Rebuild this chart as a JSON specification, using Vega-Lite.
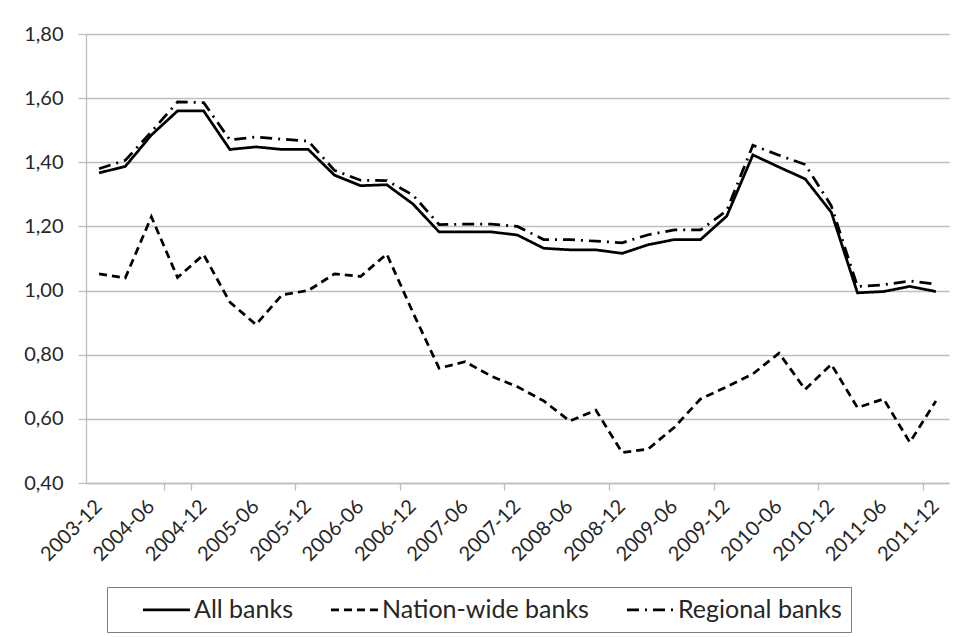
{
  "$schema": "https://vega.github.io/schema/vega-lite/v6.json",
  "width": 863,
  "height": 449,
  "autosize": {"type": "none"},
  "padding": {"left": 86, "top": 34, "right": 16, "bottom": 154},
  "background": "white",
  "config": {
    "font": "Lato",
    "locale": {"number": {"decimal": ",", "thousands": ".", "grouping": [3], "currency": ["", ""]}},
    "view": {"stroke": null},
    "axis": {
      "labelFont": "Lato",
      "labelFontSize": 20,
      "labelColor": "#262626",
      "domainColor": "#BEBEBE",
      "tickColor": "#BEBEBE",
      "gridColor": "#BEBEBE",
      "domainWidth": 1.3,
      "tickWidth": 1.3,
      "gridWidth": 1.3,
      "title": null
    },
    "legend": {
      "labelFont": "Lato",
      "labelFontSize": 25,
      "labelColor": "#262626",
      "labelLimit": 0,
      "strokeColor": "#7F7F7F",
      "padding": 9
    }
  },
  "data": {
    "values": [
      {"q": "2003-12", "All banks": 1.367, "Nation-wide banks": 1.052, "Regional banks": 1.380},
      {"q": "2004-03", "All banks": 1.387, "Nation-wide banks": 1.039, "Regional banks": 1.406},
      {"q": "2004-06", "All banks": 1.485, "Nation-wide banks": 1.230, "Regional banks": 1.495},
      {"q": "2004-09", "All banks": 1.560, "Nation-wide banks": 1.041, "Regional banks": 1.588},
      {"q": "2004-12", "All banks": 1.560, "Nation-wide banks": 1.112, "Regional banks": 1.586},
      {"q": "2005-03", "All banks": 1.440, "Nation-wide banks": 0.964, "Regional banks": 1.470},
      {"q": "2005-06", "All banks": 1.448, "Nation-wide banks": 0.894, "Regional banks": 1.479},
      {"q": "2005-09", "All banks": 1.440, "Nation-wide banks": 0.987, "Regional banks": 1.472},
      {"q": "2005-12", "All banks": 1.440, "Nation-wide banks": 1.000, "Regional banks": 1.466},
      {"q": "2006-03", "All banks": 1.360, "Nation-wide banks": 1.052, "Regional banks": 1.375},
      {"q": "2006-06", "All banks": 1.327, "Nation-wide banks": 1.044, "Regional banks": 1.344},
      {"q": "2006-09", "All banks": 1.330, "Nation-wide banks": 1.114, "Regional banks": 1.343},
      {"q": "2006-12", "All banks": 1.270, "Nation-wide banks": 0.932, "Regional banks": 1.298},
      {"q": "2007-03", "All banks": 1.183, "Nation-wide banks": 0.758, "Regional banks": 1.206},
      {"q": "2007-06", "All banks": 1.183, "Nation-wide banks": 0.778, "Regional banks": 1.207},
      {"q": "2007-09", "All banks": 1.183, "Nation-wide banks": 0.733, "Regional banks": 1.207},
      {"q": "2007-12", "All banks": 1.173, "Nation-wide banks": 0.700, "Regional banks": 1.200},
      {"q": "2008-03", "All banks": 1.132, "Nation-wide banks": 0.656, "Regional banks": 1.159},
      {"q": "2008-06", "All banks": 1.127, "Nation-wide banks": 0.593, "Regional banks": 1.159},
      {"q": "2008-09", "All banks": 1.127, "Nation-wide banks": 0.627, "Regional banks": 1.154},
      {"q": "2008-12", "All banks": 1.116, "Nation-wide banks": 0.495, "Regional banks": 1.149},
      {"q": "2009-03", "All banks": 1.143, "Nation-wide banks": 0.506, "Regional banks": 1.174},
      {"q": "2009-06", "All banks": 1.159, "Nation-wide banks": 0.574, "Regional banks": 1.189},
      {"q": "2009-09", "All banks": 1.159, "Nation-wide banks": 0.662, "Regional banks": 1.189},
      {"q": "2009-12", "All banks": 1.232, "Nation-wide banks": 0.700, "Regional banks": 1.249},
      {"q": "2010-03", "All banks": 1.423, "Nation-wide banks": 0.740, "Regional banks": 1.453},
      {"q": "2010-06", "All banks": 1.385, "Nation-wide banks": 0.805, "Regional banks": 1.422},
      {"q": "2010-09", "All banks": 1.348, "Nation-wide banks": 0.692, "Regional banks": 1.393},
      {"q": "2010-12", "All banks": 1.244, "Nation-wide banks": 0.770, "Regional banks": 1.264},
      {"q": "2011-03", "All banks": 0.993, "Nation-wide banks": 0.635, "Regional banks": 1.013},
      {"q": "2011-06", "All banks": 0.997, "Nation-wide banks": 0.662, "Regional banks": 1.018},
      {"q": "2011-09", "All banks": 1.013, "Nation-wide banks": 0.527, "Regional banks": 1.030},
      {"q": "2011-12", "All banks": 0.997, "Nation-wide banks": 0.656, "Regional banks": 1.020}
    ]
  },
  "transform": [
    {"fold": ["All banks", "Nation-wide banks", "Regional banks"], "as": ["series", "value"]}
  ],
  "encoding": {
    "y": {
      "field": "value",
      "type": "quantitative",
      "scale": {"domain": [0.4, 1.8], "nice": false, "zero": false},
      "axis": {
        "values": [0.4, 0.6, 0.8, 1.0, 1.2, 1.4, 1.6, 1.8],
        "format": ".2f",
        "grid": true,
        "tickSize": 8,
        "labelPadding": 15
      }
    },
    "strokeDash": {
      "field": "series",
      "type": "nominal",
      "scale": {
        "domain": ["All banks", "Nation-wide banks", "Regional banks"],
        "range": [[1, 0], [8, 5], [12, 6, 2, 6]]
      },
      "legend": {
        "orient": "none",
        "legendX": 21,
        "legendY": 553,
        "direction": "horizontal",
        "title": " ",
        "titleOrient": "left",
        "titlePadding": 37,
        "symbolType": "M-1.96,0H1.96",
        "symbolSize": 576,
        "symbolStrokeWidth": 2.75,
        "symbolStrokeColor": "black",
        "labelOffset": 14,
        "columnPadding": 32
      }
    }
  },
  "layer": [
    {
      "transform": [{"filter": "datum.series != 'Nation-wide banks'"}],
      "mark": {"type": "line", "color": "black", "strokeWidth": 2.75},
      "encoding": {
        "x": {
          "field": "q",
          "type": "ordinal",
          "bandPosition": 0.5,
          "scale": {"type": "band", "paddingInner": 0, "paddingOuter": 0},
          "axis": {
            "orient": "bottom",
            "values": ["2003-12", "2004-06", "2004-12", "2005-06", "2005-12", "2006-06", "2006-12", "2007-06", "2007-12", "2008-06", "2008-12", "2009-06", "2009-12", "2010-06", "2010-12", "2011-06", "2011-12"],
            "ticks": false,
            "tickSize": 0,
            "domain": false,
            "labelAngle": -45,
            "labelAlign": "right",
            "labelBaseline": "middle",
            "labelPadding": 20,
            "labelOverlap": false,
            "labelBound": false
          }
        }
      }
    },
    {
      "transform": [{"filter": "datum.series == 'Nation-wide banks'"}],
      "mark": {"type": "line", "color": "black", "strokeWidth": 2.75},
      "encoding": {
        "x": {
          "field": "q",
          "type": "ordinal",
          "bandPosition": 0.5,
          "scale": {"type": "band", "paddingInner": 0, "paddingOuter": 0},
          "axis": {
            "orient": "bottom",
            "values": ["2004-09", "2005-09", "2006-09", "2007-09", "2008-09", "2009-09", "2010-09", "2011-09"],
            "tickBand": "extent",
            "tickSize": 7,
            "labels": false,
            "domain": true
          }
        }
      }
    }
  ],
  "resolve": {"axis": {"x": "independent"}}
}
